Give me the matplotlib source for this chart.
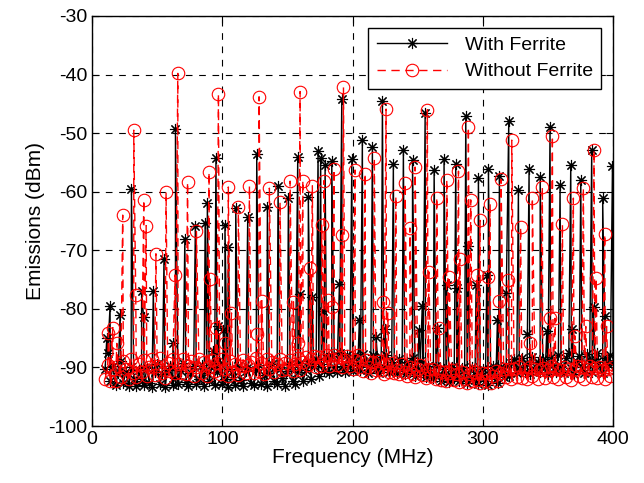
import numpy as np
import matplotlib
matplotlib.use("Agg")
import matplotlib.pyplot as plt

plt.rcParams['font.family'] = ['Liberation Sans', 'DejaVu Sans']
plt.rcParams['axes.unicode_minus'] = False

# Spectrum spikes (MHz, dBm)
ferrite_peak_freq = [11.3, 13.8, 21.5, 30.2, 38.0, 39.5, 47.0, 55.2, 62.0, 64.0,
                     71.2, 79.3, 86.8, 88.5, 93.2, 95.1, 96.6, 100.8, 102.0, 104.7,
                     110.3, 119.5, 126.4, 134.6, 142.8, 150.7, 157.9, 159.7, 166.0, 169.0,
                     173.5, 175.5, 177.6, 178.9, 184.0, 189.9, 191.7, 199.4, 205.2, 207.5,
                     215.2, 218.0, 222.9, 225.0, 231.3, 239.0, 246.0, 251.0, 253.5, 255.7,
                     262.6, 265.0, 270.2, 272.3, 279.2, 280.5, 286.9, 288.9, 294.8, 296.6,
                     303.0, 304.3, 311.2, 312.7, 318.0, 319.9, 327.3, 334.2, 335.5, 344.0,
                     349.1, 351.6, 359.3, 367.5, 368.8, 375.2, 383.6, 385.0, 392.0, 393.5,
                     399.5]
ferrite_peak_dbm = [-85.0, -79.5, -81.0, -59.5, -76.9, -81.4, -76.9, -71.5, -85.9, -49.3,
                    -68.0, -65.8, -65.4, -61.9, -87.2, -54.3, -83.0, -83.6, -65.7, -69.5,
                    -62.8, -64.3, -53.6, -62.6, -59.1, -61.0, -54.0, -77.4, -60.9, -77.9,
                    -53.0, -54.3, -80.4, -55.4, -54.7, -75.8, -44.1, -54.4, -81.9, -51.2,
                    -52.4, -84.8, -44.6, -83.5, -55.3, -52.9, -54.6, -83.6, -79.5, -46.6,
                    -56.3, -83.2, -54.5, -75.9, -55.2, -76.5, -47.1, -69.2, -75.9, -57.7,
                    -74.2, -56.2, -81.9, -57.4, -77.3, -47.9, -59.7, -84.3, -56.2, -57.5,
                    -83.7, -49.0, -58.9, -55.4, -83.5, -58.0, -52.9, -79.7, -61.1, -81.2,
                    -55.7]

no_ferrite_peak_freq = [12.5, 15.9, 19.0, 23.5, 32.0, 33.5, 39.7, 41.5, 49.0, 56.8,
                        63.7, 65.8, 73.3, 80.1, 89.8, 90.5, 95.2, 97.0, 102.0, 104.6,
                        107.0, 112.3, 120.8, 126.4, 128.2, 130.3, 136.1, 144.3, 152.0, 154.6,
                        158.4, 159.7, 161.8, 167.6, 169.1, 176.3, 178.1, 181.4, 184.0, 185.8,
                        191.5, 193.0, 201.9, 209.6, 216.7, 223.6, 225.7, 227.0, 233.2, 240.3,
                        244.0, 248.0, 257.4, 258.6, 264.6, 266.6, 272.3, 274.2, 281.3, 282.4,
                        288.9, 290.7, 295.8, 297.9, 304.3, 305.6, 312.7, 314.0, 319.6, 322.2,
                        329.0, 336.3, 338.0, 345.7, 351.6, 353.4, 355.5, 361.1, 369.5, 370.6,
                        377.2, 379.0, 385.4, 387.0, 393.6, 395.0]
no_ferrite_peak_dbm = [-84.2, -83.2, -85.9, -64.0, -49.5, -77.6, -61.4, -65.8, -70.6, -60.1,
                       -74.2, -39.8, -58.4, -66.7, -56.7, -74.9, -83.2, -43.3, -85.8, -59.2,
                       -80.7, -62.6, -59.0, -84.3, -43.8, -78.6, -59.4, -61.8, -58.2, -78.8,
                       -85.8, -42.9, -58.1, -73.0, -59.0, -65.7, -58.1, -78.5, -79.6, -56.2,
                       -67.4, -42.2, -56.3, -56.9, -54.3, -78.8, -45.9, -80.7, -60.8, -58.6,
                       -66.2, -55.8, -46.0, -73.7, -61.0, -83.2, -58.0, -74.5, -56.5, -71.5,
                       -49.0, -61.4, -74.2, -64.9, -74.6, -62.1, -78.7, -57.9, -75.0, -51.2,
                       -66.1, -85.9, -61.1, -59.2, -81.6, -50.5, -81.6, -65.6, -61.1, -84.6,
                       -59.4, -83.0, -52.9, -74.8, -67.3, -83.0]

# Noise floor, one reading every 2 MHz from 10 to 400 MHz
floor_freq = np.arange(10, 401, 2)
ferrite_floor = [
    -90.2, -87.6, -92.4, -89.8, -93.0, -91.0, -88.9, -92.6, -90.7, -93.1, -89.9, -92.0, -93.2, -90.4,
    -92.3, -93.0, -90.1, -92.7, -93.3, -90.8, -89.4, -92.9, -91.2, -93.4, -90.5, -89.7, -93.0, -91.8,
    -92.8, -90.6, -89.3, -92.5, -93.1, -91.0, -89.8, -92.9, -91.9, -89.6, -93.2, -90.9, -92.4, -89.5,
    -93.0, -90.8, -89.2, -92.9, -92.0, -93.3, -90.2, -91.7, -93.0, -89.8, -92.2, -93.1, -90.6, -89.9,
    -92.6, -93.0, -90.4, -89.6, -92.8, -91.3, -93.2, -90.9, -89.4, -92.3, -92.9, -90.3, -91.8, -93.1,
    -90.6, -89.5, -92.3, -92.9, -90.8, -89.2, -92.4, -90.5, -88.9, -91.9, -89.8, -88.6, -91.4, -89.4,
    -90.6, -88.4, -90.9, -88.0, -89.9, -90.8, -87.6, -89.8, -90.7, -87.8, -89.6, -90.6, -87.9, -89.7,
    -90.5, -87.7, -89.3, -90.9, -89.2, -87.9, -90.2, -90.9, -88.3, -89.9, -87.8, -90.7, -89.1, -90.3,
    -90.9, -88.6, -90.2, -91.2, -89.0, -90.8, -88.4, -91.4, -90.3, -88.9, -90.9, -91.6, -89.8, -91.2,
    -91.8, -89.7, -91.3, -92.3, -90.2, -91.7, -92.5, -89.9, -91.8, -91.0, -92.4, -90.1, -91.9, -92.6,
    -91.6, -89.9, -92.1, -92.8, -91.0, -90.2, -92.4, -93.0, -90.8, -89.8, -92.0, -92.7, -90.0, -91.6,
    -89.8, -91.4, -89.3, -88.6, -90.9, -90.1, -88.4, -90.7, -89.5, -91.2, -88.3, -90.4, -89.0, -90.8,
    -88.5, -89.9, -91.1, -88.2, -89.6, -90.8, -87.8, -89.7, -91.0, -88.4, -87.6, -90.1, -91.2, -89.0,
    -88.1, -89.9, -90.9, -87.7, -89.3, -90.7, -88.6, -87.5, -89.8, -91.0, -88.4, -89.5, -87.9, -89.2,
]
no_ferrite_floor = [
    -92.0, -89.6, -92.3, -90.2, -92.4, -89.8, -91.7, -88.9, -90.3, -91.9, -88.6, -90.9, -91.6, -89.4,
    -90.8, -88.8, -91.5, -90.0, -88.5, -91.3, -89.7, -88.4, -90.9, -91.8, -89.2, -90.6, -88.6, -91.0,
    -89.4, -90.9, -88.5, -91.2, -89.8, -88.9, -91.5, -90.0, -88.6, -91.0, -89.1, -91.4, -89.9, -88.7,
    -90.6, -89.2, -91.1, -88.6, -90.3, -91.4, -88.9, -90.7, -89.5, -91.3, -89.8, -88.7, -91.0, -89.6,
    -89.0, -90.9, -88.4, -90.6, -89.3, -91.1, -88.6, -90.2, -89.0, -90.8, -89.5, -88.5, -90.5, -89.2,
    -90.3, -88.7, -90.6, -89.4, -88.4, -90.5, -89.0, -88.2, -89.6, -88.6, -88.1, -89.9, -88.3, -89.8,
    -88.8, -87.9, -89.8, -88.5, -87.8, -89.6, -88.3, -90.0, -88.7, -88.0, -89.7, -90.3, -88.7, -87.9,
    -89.9, -90.6, -88.8, -89.9, -90.9, -89.0, -90.5, -88.9, -90.4, -91.1, -89.5, -90.7, -89.2, -90.9,
    -90.5, -91.2, -89.4, -90.8, -91.5, -89.9, -91.1, -91.7, -90.2, -89.6, -91.3, -91.8, -90.3, -91.4,
    -90.3, -91.9, -90.6, -92.1, -90.8, -92.3, -91.0, -90.4, -92.2, -91.1, -92.5, -90.7, -92.0, -92.6,
    -91.2, -92.4, -90.7, -92.2, -92.7, -90.9, -92.3, -91.0, -92.6, -91.4, -90.6, -92.3, -90.9, -90.2,
    -91.7, -90.3, -92.0, -90.2, -91.6, -90.0, -91.8, -90.4, -92.0, -89.9, -91.5, -90.3, -91.9, -90.5,
    -90.1, -91.8, -90.4, -89.8, -91.6, -90.2, -92.0, -90.5, -89.9, -91.7, -90.3, -92.1, -90.4, -89.7,
    -91.4, -90.0, -91.9, -90.3, -89.7, -91.6, -90.1, -91.8, -89.9, -90.4, -92.0, -90.2, -91.5, -90.0,
]


def merge(floor_f, floor_v, peak_f, peak_v):
    f = np.concatenate([floor_f, peak_f])
    v = np.concatenate([floor_v, peak_v])
    order = np.argsort(f, kind="stable")
    return f[order], v[order]


f1, v1 = merge(floor_freq, ferrite_floor, ferrite_peak_freq, ferrite_peak_dbm)
f2, v2 = merge(floor_freq, no_ferrite_floor, no_ferrite_peak_freq, no_ferrite_peak_dbm)

fig = plt.figure(figsize=(6.44, 4.83), dpi=100)
ax = fig.add_axes([0.143, 0.118, 0.809, 0.849])

ax.plot(f1, v1, color="black", linestyle="-", linewidth=1.0,
        marker=(8, 2, 0), markersize=8, markeredgewidth=0.8,
        label="With Ferrite")
ax.plot(f2, v2, color="red", linestyle=(0, (6, 4)), linewidth=1.0,
        marker="o", markersize=9, markerfacecolor="none", markeredgewidth=0.8,
        label="Without Ferrite")

ax.set_xlim(0, 400)
ax.set_ylim(-100, -30)
ax.set_xticks([0, 100, 200, 300, 400])
ax.set_yticks(np.arange(-100, -29, 10))
ax.tick_params(direction="in", top=True, right=True, labelsize=14, length=5)
ax.grid(True, color="black", linestyle=(0, (6, 6)), linewidth=0.8)
for s in ax.spines.values():
    s.set_linewidth(1.0)

ax.set_xlabel("Frequency (MHz)", fontsize=15, labelpad=0)
ax.set_ylabel("Emissions (dBm)", fontsize=15, labelpad=2)

leg = ax.legend(loc="upper right", fontsize=14, fancybox=False, framealpha=1,
                edgecolor="black", handlelength=3.6, borderaxespad=0.6,
                borderpad=0.45, labelspacing=0.45, handletextpad=0.9)
leg.get_frame().set_linewidth(1.0)

fig.savefig("out.png", dpi=100)
